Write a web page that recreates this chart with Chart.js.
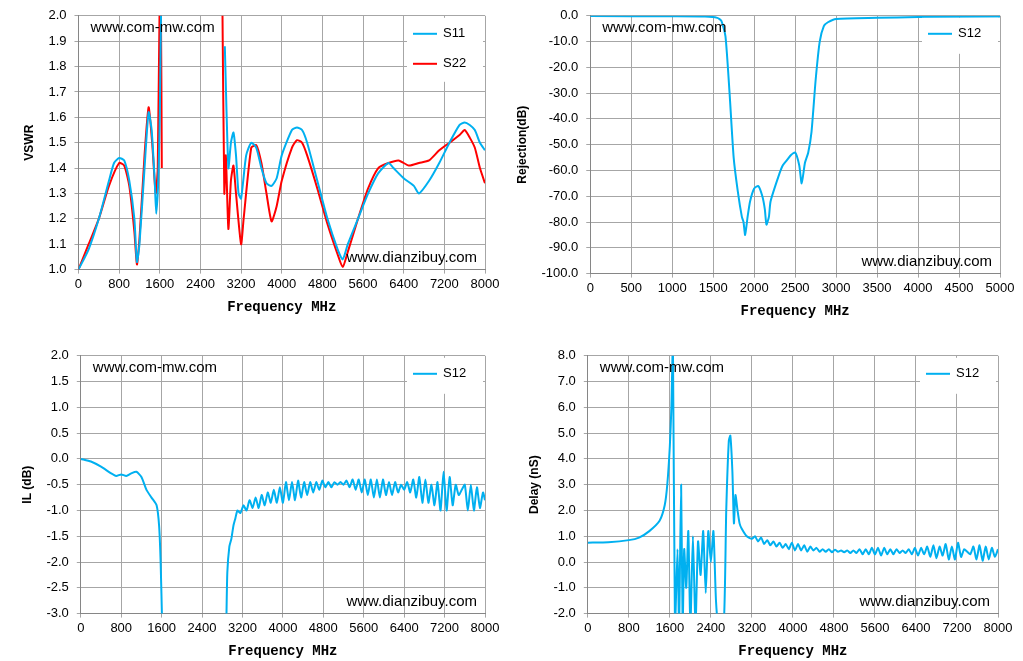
<!DOCTYPE html>
<html><head><meta charset="utf-8">
<script src="https://cdn.jsdelivr.net/npm/chart.js@4"></script>
<style>
body{margin:0;background:#fff;width:1023px;height:661px;overflow:hidden;position:relative}
.c{position:absolute;width:511px;height:330px}
</style></head><body>
<div class="c" style="left:0;top:0"><canvas id="c1"></canvas></div>
<div class="c" style="left:511px;top:0"><canvas id="c2"></canvas></div>
<div class="c" style="left:0;top:340px"><canvas id="c3"></canvas></div>
<div class="c" style="left:511px;top:340px"><canvas id="c4"></canvas></div>
<script>
// VSWR
var s11Freq = [0,200,400,600,700,800,900,1000,1100,1150,1200,1300,1380,1440,1500,1530,1570,1600,1630,1700,2880,2950,3000,3050,3100,3150,3200,3300,3400,3500,3600,3700,3800,3900,4000,4200,4300,4400,4500,4700,4900,5100,5200,5300,5500,5700,5900,6100,6200,6400,6600,6700,6900,7100,7300,7500,7600,7700,7800,7900,8000];
var s11Val = [1.0,1.08,1.2,1.35,1.42,1.44,1.43,1.35,1.2,1.03,1.1,1.4,1.62,1.55,1.35,1.22,1.35,1.6,2.1,null,1.88,1.4,1.5,1.54,1.45,1.3,1.28,1.45,1.5,1.48,1.4,1.34,1.33,1.36,1.45,1.55,1.56,1.55,1.5,1.35,1.2,1.08,1.04,1.1,1.2,1.3,1.38,1.42,1.4,1.36,1.33,1.3,1.35,1.42,1.5,1.57,1.58,1.57,1.55,1.5,1.47];
var s22Freq = [0,200,400,600,800,900,1000,1100,1150,1200,1300,1380,1450,1520,1560,1600,1620,1640,1700,2830,2870,2900,2950,3000,3050,3100,3200,3250,3400,3500,3600,3700,3800,3900,4000,4200,4300,4400,4500,4700,4900,5100,5200,5300,5500,5700,5900,6100,6300,6500,6700,6900,7100,7300,7500,7600,7700,7800,7900,8000];
var s22Val = [1.0,1.1,1.2,1.33,1.42,1.41,1.33,1.15,1.02,1.12,1.45,1.64,1.5,1.3,1.4,2.1,2.1,1.4,null,2.1,1.3,1.45,1.16,1.35,1.41,1.3,1.1,1.2,1.48,1.49,1.42,1.3,1.19,1.25,1.35,1.48,1.51,1.5,1.45,1.32,1.18,1.06,1.01,1.07,1.2,1.32,1.4,1.42,1.43,1.41,1.42,1.43,1.47,1.5,1.53,1.55,1.52,1.48,1.4,1.34];
// Rejection
var rejFreq = [0,1000,1400,1550,1600,1650,1700,1750,1800,1850,1870,1890,1920,1950,2000,2050,2100,2130,2150,2180,2200,2300,2350,2400,2450,2500,2550,2580,2620,2660,2700,2750,2800,2850,2900,3000,3500,4000,5000];
var rejVal = [-0.1,-0.2,-0.3,-0.8,-2,-8,-30,-55,-68,-78,-80,-85,-78,-72,-67,-66,-70,-75,-81,-78,-72,-62,-58,-56,-54,-53,-58,-65,-57,-53,-45,-25,-10,-4,-2.5,-1.2,-0.8,-0.5,-0.3];
// Insertion loss
var ilFreq = [0,200,400,600,700,800,900,1000,1100,1200,1300,1400,1500,1550,1580,1610,1700,2800,2880,2900,2940,2980,3020,3060,3100,3160,3220,3280,3340,3400,3460,3520,3580,3640,3700,3760,3820,3880,3940,4000,4060,4120,4180,4240,4300,4360,4420,4480,4540,4600,4660,4720,4780,4840,4900,4960,5020,5080,5140,5200,5260,5320,5380,5440,5500,5560,5620,5680,5740,5800,5860,5920,5980,6040,6100,6160,6220,6280,6340,6400,6460,6520,6580,6640,6700,6760,6820,6880,6940,7000,7060,7120,7180,7240,7300,7360,7420,7480,7540,7600,7660,7720,7780,7840,7900,7960,8000];
var ilVal = [0,-0.05,-0.15,-0.28,-0.33,-0.3,-0.33,-0.28,-0.25,-0.35,-0.6,-0.75,-0.9,-1.3,-2.0,-3.2,null,null,-3.2,-2.2,-1.7,-1.55,-1.3,-1.15,-1.0,-1.05,-0.9,-1.0,-0.8,-0.95,-0.75,-0.95,-0.7,-0.9,-0.65,-0.85,-0.6,-0.85,-0.55,-0.85,-0.45,-0.8,-0.45,-0.8,-0.42,-0.75,-0.45,-0.7,-0.45,-0.65,-0.45,-0.6,-0.42,-0.55,-0.45,-0.55,-0.45,-0.5,-0.45,-0.5,-0.42,-0.55,-0.4,-0.6,-0.4,-0.65,-0.4,-0.7,-0.4,-0.75,-0.4,-0.75,-0.4,-0.7,-0.45,-0.7,-0.45,-0.65,-0.5,-0.6,-0.45,-0.65,-0.4,-0.75,-0.35,-0.85,-0.4,-0.85,-0.5,-0.9,-0.45,-1.0,-0.25,-1.0,-0.35,-0.9,-0.5,-0.7,-0.6,-0.5,-1.0,-0.5,-1.0,-0.55,-0.95,-0.65,-0.8];
// Group delay
var dlFreq = [0,400,800,1000,1200,1400,1500,1550,1600,1630,1660,1700,1750,1780,1820,1850,1880,1920,1960,2000,2050,2100,2150,2200,2250,2300,2350,2400,2450,2500,2550,2650,2700,2750,2780,2820,2850,2880,2920,2960,3000,3100,3200,3260,3320,3380,3440,3500,3560,3620,3680,3740,3800,3860,3920,3980,4040,4100,4160,4220,4280,4340,4400,4460,4520,4580,4640,4700,4760,4820,4880,4940,5000,5060,5120,5180,5240,5300,5360,5420,5480,5540,5600,5660,5720,5780,5840,5900,5960,6020,6080,6140,6200,6260,6320,6380,6440,6500,6560,6620,6680,6740,6800,6860,6920,6980,7040,7100,7160,7220,7280,7340,7400,7460,7520,7580,7640,7700,7760,7820,7880,7940,8000];
var dlVal = [0.75,0.77,0.85,0.95,1.2,1.6,2.2,3.0,4.5,6,8.5,-2.5,0.5,-2.5,3.0,-2.5,0.5,-1,1.2,-2.5,1.0,-2.5,0.8,-0.5,1.2,-1.2,1.2,0,1.2,-1.5,-2.5,-2.5,2.0,4.7,4.9,3.5,1.5,2.6,2.0,1.5,1.3,1.0,0.9,1.0,0.8,0.95,0.7,0.85,0.65,0.8,0.6,0.75,0.55,0.7,0.5,0.75,0.45,0.7,0.45,0.65,0.4,0.6,0.45,0.55,0.4,0.5,0.4,0.5,0.38,0.48,0.4,0.45,0.38,0.45,0.35,0.45,0.35,0.5,0.3,0.5,0.3,0.55,0.3,0.55,0.25,0.55,0.3,0.5,0.3,0.5,0.35,0.45,0.35,0.5,0.3,0.55,0.25,0.55,0.3,0.6,0.2,0.65,0.15,0.6,0.25,0.7,0.1,0.6,0.1,0.75,0.2,0.5,0.4,0.3,0.6,0.1,0.65,0.05,0.6,0.1,0.55,0.2,0.5];

var BLUE = '#00B0F0', RED = '#FF0000';

function pts(xs, ys){
  var out = [];
  for (var i = 0; i < xs.length; i++) out.push({x: xs[i], y: ys[i]});
  return out;
}

var overlay = {
  id: 'overlay',
  afterDraw: function(chart){
    var o = chart.options.plugins.overlay, a = chart.chartArea, ctx = chart.ctx;
    ctx.save();
    ctx.font = '15px "Liberation Sans", Arial';
    ctx.fillStyle = '#000';
    ctx.textBaseline = 'middle';
    ctx.fillText('www.com-mw.com', a.left + 12, a.top + 12);
    ctx.textAlign = 'right';
    ctx.fillText('www.dianzibuy.com', a.right - 8, a.bottom - 12);
    // legend box
    var h = 28 * o.items.length + 8, w = 76, x = a.right - w - 2, y = a.top + 2;
    ctx.fillStyle = '#fff';
    ctx.fillRect(x, y, w, h);
    ctx.textAlign = 'left';
    ctx.font = '13px "Liberation Sans", Arial';
    o.items.forEach(function(it, i){
      var yy = y + 16 + i * 30;
      ctx.strokeStyle = it.c; ctx.lineWidth = 2;
      ctx.beginPath(); ctx.moveTo(x + 6, yy); ctx.lineTo(x + 30, yy); ctx.stroke();
      ctx.fillStyle = '#000';
      ctx.fillText(it.t, x + 36, yy);
    });
    ctx.restore();
  }
};

function makeChart(id, datasets, xmax, xstep, ymin, ymax, ystep, ylabel, items, pad){
  new Chart(document.getElementById(id), {
    type: 'line',
    data: {datasets: datasets},
    options: {
      responsive: true, maintainAspectRatio: false, animation: false,
      layout: {padding: pad},
      elements: {point: {radius: 0}, line: {borderWidth: 2, tension: 0.2}},
      plugins: {legend: {display: false}, tooltip: {enabled: false}, overlay: {items: items}},
      scales: {
        x: {type: 'linear', min: 0, max: xmax,
            ticks: {stepSize: xstep, color: '#000', font: {size: 13, family: 'Liberation Sans'}, maxRotation: 0, callback: function(v){ return String(v); }},
            grid: {color: '#a6a6a6', tickLength: 4},
            border: {color: '#868686'},
            title: {display: true, text: 'Frequency MHz', color: '#000', font: {size: 14, weight: 'bold', family: 'Liberation Mono'}}},
        y: {min: ymin, max: ymax,
            ticks: {stepSize: ystep, color: '#000', padding: 8, font: {size: 13, family: 'Liberation Sans'}, callback: function(v){ return v.toFixed(1); }},
            grid: {color: '#a6a6a6', tickLength: 4},
            border: {color: '#868686'},
            title: {display: true, text: ylabel, color: '#000', font: {size: 12, weight: 'bold', family: 'Liberation Sans'}}}
      }
    },
    plugins: [overlay]
  });
}

makeChart('c1', [
  {data: pts(s11Freq, s11Val), borderColor: BLUE, spanGaps: false},
  {data: pts(s22Freq, s22Val), borderColor: RED, spanGaps: false}
], 8000, 800, 1.0, 2.0, 0.1, 'VSWR', [{t: 'S11', c: BLUE}, {t: 'S22', c: RED}], {top: 6, right: 26, left: 18, bottom: 10});

makeChart('c2', [
  {data: pts(rejFreq, rejVal), borderColor: BLUE}
], 5000, 500, -100, 0, 10, 'Rejection(dB)', [{t: 'S12', c: BLUE}], {top: 8, right: 22, left: 0, bottom: 6});

makeChart('c3', [
  {data: pts(ilFreq, ilVal), borderColor: BLUE, spanGaps: false}
], 8000, 800, -3.0, 2.0, 0.5, 'IL (dB)', [{t: 'S12', c: BLUE}], {top: 6, right: 26, left: 16, bottom: 6});

makeChart('c4', [
  {data: pts(dlFreq, dlVal), borderColor: BLUE}
], 8000, 800, -2.0, 8.0, 1.0, 'Delay (nS)', [{t: 'S12', c: BLUE}], {top: 6, right: 24, left: 12, bottom: 6});
</script>
</body></html>
